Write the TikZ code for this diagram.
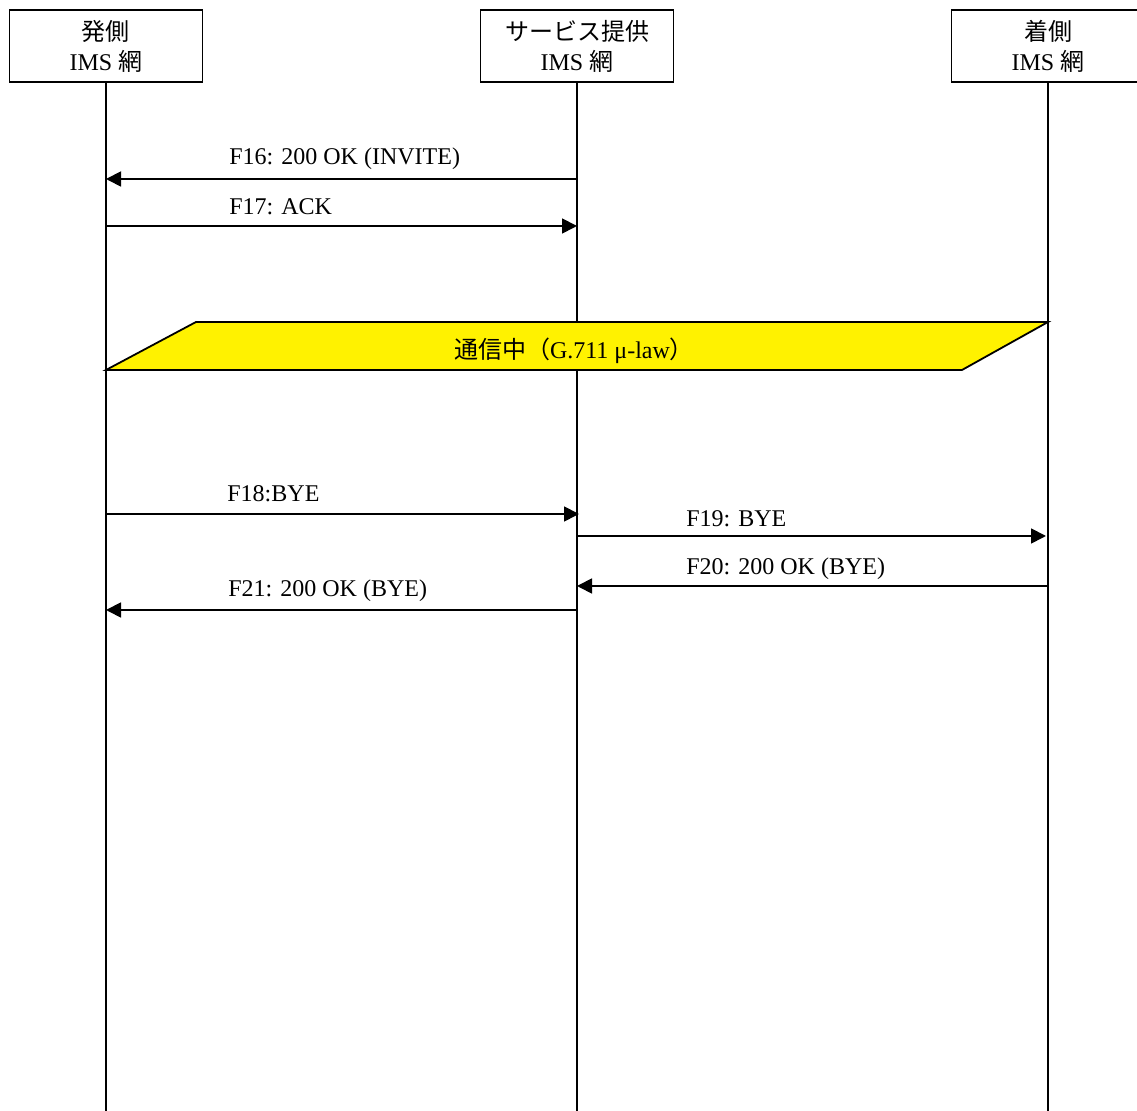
\documentclass[tikz,border=0pt]{standalone}
\usepackage{fontspec}
\setmainfont{Liberation Serif}
\newfontfamily\jafont{Noto Sans CJK JP}
\usetikzlibrary{arrows.meta,positioning,calc}

\begin{document}
\begin{tikzpicture}[
  x=0.5pt,y=-0.5pt,
  ent/.style={draw, line width=0.9pt, minimum width=96.5pt, minimum height=36pt, align=center, font=\fontsize{12}{15}\selectfont, inner sep=0pt},
  msg/.style={anchor=west, inner sep=0pt, font=\fontsize{12}{14}\selectfont},
  life/.style={line width=0.9pt},
  band/.style={draw, line width=0.9pt, fill=yellow},
  arr/.style={-{Triangle[length=7.5pt,width=7.5pt]}, line width=0.9pt}
]
\useasboundingbox (0,0) rectangle (1137,1111);
% entities
\node[ent] (orig) at (106,46) {{\jafont 発側}\\IMS {\jafont 網}};
\node[ent] (svc) at (577,46) {{\jafont サービス提供}\\IMS {\jafont 網}};
\node[ent] (term) at (1048,46) {{\jafont 着側}\\IMS {\jafont 網}};
\coordinate (origEnd) at (106,1111);
\coordinate (svcEnd) at (577,1111);
\coordinate (termEnd) at (1048,1111);
\draw[life] (orig) -- (origEnd);
\draw[life] (svc) -- (svcEnd);
\draw[life] (term) -- (termEnd);
% messages
\coordinate (o16) at (106,179); \coordinate (s16) at (577,179);
\coordinate (o17) at (106,226); \coordinate (s17) at (577,226);
\node[msg] (l16) at (229,159) {F16: 200 OK (INVITE)};
\node[msg] (l17) at (229,207) {F17: ACK};
\draw[arr] (s16) -- (o16);
\draw[arr] (o17) -- (s17);
% talking
\coordinate (b1) at (196,322); \coordinate (b2) at (1048,322);
\coordinate (b3) at (962,370); \coordinate (b4) at (106,370);
\draw[band] (b1) -- (b2) -- (b3) -- (b4) -- cycle;
\node[font=\fontsize{12}{14}\selectfont] (talk) at (574,351) {{\jafont 通信中（}G.711 μ-law{\jafont ）}};
% release
\coordinate (o18) at (106,514); \coordinate (s18) at (579,514);
\coordinate (s19) at (577,536); \coordinate (t19) at (1046,536);
\coordinate (t20) at (1048,586); \coordinate (s20) at (577,586);
\coordinate (s21) at (577,610); \coordinate (o21) at (106,610);
\node[msg] (l18) at (227,494) {F18:BYE};
\node[msg] (l19) at (686,519) {F19: BYE};
\node[msg] (l20) at (686,569) {F20: 200 OK (BYE)};
\node[msg] (l21) at (228,591) {F21: 200 OK (BYE)};
\draw[arr] (o18) -- (s18);
\draw[arr] (s19) -- (t19);
\draw[arr] (t20) -- (s20);
\draw[arr] (s21) -- (o21);
\end{tikzpicture}
\end{document}
